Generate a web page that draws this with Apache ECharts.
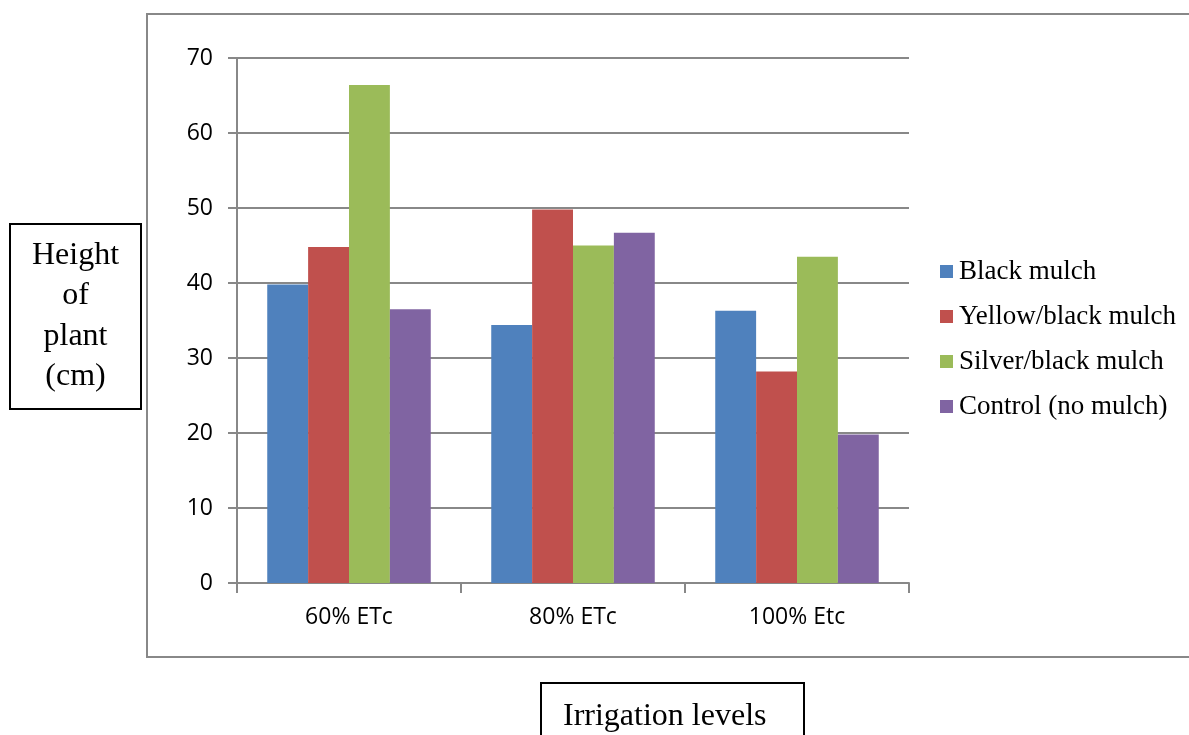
<!DOCTYPE html>
<html>
<head>
<meta charset="utf-8">
<style>
  html, body { margin: 0; padding: 0; background: #ffffff; }
  #chart { width: 1189px; height: 735px; }
</style>
<script src="https://cdn.jsdelivr.net/npm/echarts@6/dist/echarts.min.js"></script>
</head>
<body>
<div id="chart"></div>
<script>
// Irrigation levels on the category axis
const categories = ['60% ETc', '80% ETc', '100% Etc'];

// Plant height (cm) per mulch treatment
const blackMulch = [39.8, 34.4, 36.3];
const yellowBlackMulch = [44.8, 49.8, 28.2];
const silverBlackMulch = [66.4, 45.0, 43.5];
const controlNoMulch = [36.5, 46.7, 19.8];

const seriesNames = ['Black mulch', 'Yellow/black mulch', 'Silver/black mulch', 'Control (no mulch)'];
const seriesValues = [blackMulch, yellowBlackMulch, silverBlackMulch, controlNoMulch];
const seriesColors = ['#4F81BD', '#C0504D', '#9BBB59', '#8064A2'];

const yTitleLines = ['Height', 'of', 'plant', '(cm)'];
const xTitle = 'Irrigation levels';

const axisGray = '#888888';
const serif = '"Liberation Serif", "Times New Roman", serif';
const sans = '"Open Sans", "Liberation Sans", sans-serif';

const chart = echarts.init(document.getElementById('chart'), null, { renderer: 'canvas' });

chart.setOption({
  animation: false,
  backgroundColor: '#ffffff',
  color: seriesColors,
  grid: { left: 237, right: 280, top: 58, bottom: 152, containLabel: false },
  legend: {
    orient: 'vertical',
    left: 940,
    top: 258,
    padding: 0,
    icon: 'rect',
    itemWidth: 13,
    itemHeight: 13,
    itemGap: 18,
    data: seriesNames,
    textStyle: { fontFamily: serif, fontSize: 27, color: '#000000', padding: [0, 0, 0, 1] }
  },
  xAxis: {
    type: 'category',
    data: categories,
    axisLine: { show: true, lineStyle: { color: axisGray, width: 2 } },
    axisTick: { show: true, length: 10, lineStyle: { color: axisGray, width: 2 } },
    axisLabel: { color: '#000000', fontFamily: sans, fontSize: 23, margin: 23 }
  },
  yAxis: {
    type: 'value',
    min: 0,
    max: 70,
    interval: 10,
    axisLine: { show: true, lineStyle: { color: axisGray, width: 2 } },
    axisTick: { show: true, length: 9, lineStyle: { color: axisGray, width: 2 } },
    axisLabel: { color: '#000000', fontFamily: sans, fontSize: 23, margin: 24 },
    splitLine: { show: true, lineStyle: { color: axisGray, width: 2 } }
  },
  series: seriesNames.map((name, i) => ({
    name: name,
    type: 'bar',
    data: seriesValues[i],
    barGap: '0%',
    barCategoryGap: '27%',
    itemStyle: { color: seriesColors[i] }
  })),
  graphic: [
    // outer chart frame (right edge runs past the page)
    {
      type: 'rect',
      z: -1,
      shape: { x: 147, y: 14, width: 1060, height: 643 },
      style: { fill: 'none', stroke: axisGray, lineWidth: 2 }
    },
    // y-axis title box
    {
      type: 'rect',
      shape: { x: 10, y: 224, width: 131, height: 185 },
      style: { fill: '#ffffff', stroke: '#000000', lineWidth: 2 }
    },
    {
      type: 'text',
      left: 10,
      top: 235,
      style: {
        text: yTitleLines.join('\n'),
        width: 131,
        x: 75.5,
        y: 0,
        textAlign: 'center',
        font: '32px ' + serif,
        lineHeight: 40.5,
        fill: '#000000'
      }
    },
    // x-axis title box
    {
      type: 'rect',
      shape: { x: 541, y: 683, width: 263, height: 70 },
      style: { fill: '#ffffff', stroke: '#000000', lineWidth: 2 }
    },
    {
      type: 'text',
      style: {
        text: xTitle,
        x: 563,
        y: 717,
        textAlign: 'left',
        textVerticalAlign: 'middle',
        font: '32px ' + serif,
        fill: '#000000'
      }
    }
  ]
});
</script>
</body>
</html>
